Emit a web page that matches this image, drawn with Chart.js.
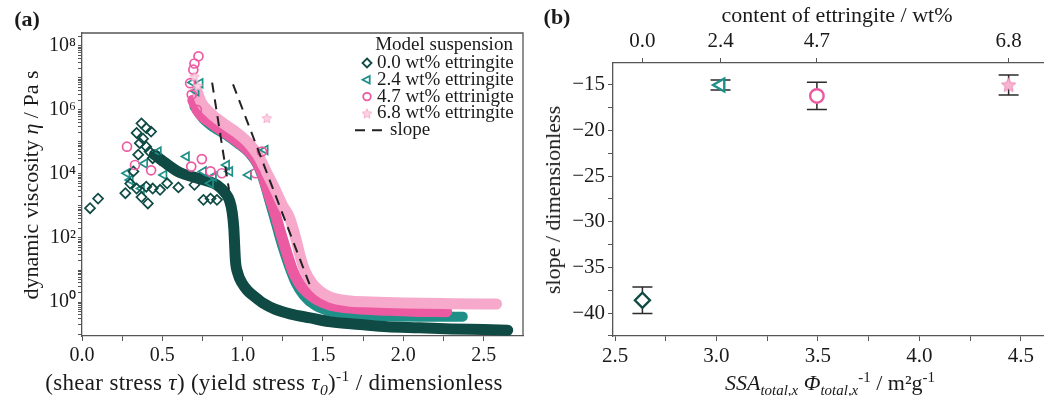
<!DOCTYPE html>
<html lang="en">
<head>
<meta charset="utf-8">
<title>Viscosity and slope of model suspensions</title>
<script src="https://cdn.jsdelivr.net/npm/chart.js"></script>
<style>
  html, body { margin: 0; padding: 0; background: #fff; }
  #fig { position: relative; width: 1053px; height: 396px; overflow: hidden;
         font-family: "Liberation Serif", "Times New Roman", serif; color: #1a1a1a; }
  #fig canvas { position: absolute; top: 0; }
  #panelA { left: 0; }
  #panelB { left: 540px; }
  .lbl { position: absolute; white-space: nowrap; line-height: 1; font-size: 22px;
         transform: translate(-50%, -50%); }
  .rot { transform: translate(-50%, -50%) rotate(-90deg); }
  .wide { font-size: 23px; letter-spacing: 0.3px; }
  .tag { font-weight: bold; font-size: 22px; }
  .lbl sub { font-size: 0.68em; vertical-align: -0.35em; line-height: 0; }
  .lbl sup { font-size: 0.68em; vertical-align: 0.55em; line-height: 0; }
</style>
</head>
<body>
<div id="fig">
  <canvas id="panelA" width="540" height="396"></canvas>
  <canvas id="panelB" width="513" height="396"></canvas>
  <div class="lbl tag" style="left:27px;top:19px">(a)</div>
  <div class="lbl tag" style="left:557px;top:17px">(b)</div>
  <div class="lbl rot" style="left:31px;top:185px">dynamic viscosity <i>η</i> / Pa s</div>
  <div class="lbl wide" style="left:274px;top:382px">(shear stress <i>τ</i>) (yield stress <i>τ<sub>0</sub></i>)<sup>-1</sup> / dimensionless</div>
  <div class="lbl" style="left:837px;top:15px">content of ettringite / wt%</div>
  <div class="lbl rot" style="left:553px;top:200px">slope / dimensionless</div>
  <div class="lbl" style="left:830px;top:383px"><i>SSA<sub>total,x</sub> Φ<sub>total,x</sub></i><sup>-1</sup> / m²g<sup>-1</sup></div>
</div>
<script>
// ---------- Panel (a): dynamic viscosity (Pa s) against tau / tau0 ----------
const seriesNames = ['0.0 wt% ettringite', '2.4 wt% ettringite', '4.7 wt% ettrinigte', '6.8 wt% ettringite'];
const seriesColors = ['#0f4a44', '#1f8f88', '#ec5aa2', '#f6a9cb'];

// isolated readings below and around the yield point (drawn as markers)
const xDots00 = [0.05, 0.10, 0.27, 0.34, 0.40, 0.41, 0.37, 0.44, 0.486, 0.53, 0.60, 0.70, 0.756, 0.80, 0.84, 0.32,
                 0.37, 0.40, 0.34, 0.43, 0.36, 0.40, 0.42, 0.44, 0.486, 0.53, 0.38, 0.35, 0.30];
const etaDots00 = [8.5e2, 1.7e3, 2.5e3, 3.5e3, 4.0e3, 1.2e3, 1.9e3, 3.5e3, 3.2e3, 5.1e3, 3.8e3, 4.6e3, 1.55e3, 1.7e3, 1.55e3, 1.2e4,
                   3.8e5, 2.7e5, 1.9e5, 2.1e5, 9.1e4, 7.1e4, 5.0e4, 3.1e4, 2.75e4, 1.9e4, 1.26e5, 4.0e4, 5.0e3];

const xDots24 = [0.28, 0.30, 0.37, 0.39, 0.475, 0.51, 0.65, 0.756, 0.80, 0.818, 0.90, 0.92, 1.036, 1.14, 0.69, 0.71, 0.735];
const etaDots24 = [1.05e4, 6.5e3, 3.5e3, 2.1e4, 5.0e4, 9.3e3, 3.5e4, 1.2e4, 5.1e3, 8.3e3, 1.9e4, 1.2e4, 9.3e3, 5.6e4, 7.2e6, 3.8e6, 6.8e6];

const xDots47 = [0.28, 0.33, 0.43, 0.68, 0.746, 0.80, 0.87, 1.08, 1.12, 0.725, 0.70, 0.693, 0.673, 0.683, 0.715];
const etaDots47 = [7.1e4, 1.9e4, 1.3e4, 1.7e4, 2.9e4, 1.2e4, 1.05e4, 1.05e4, 5.0e4, 4.7e7, 2.8e7, 1.8e7, 6.8e6, 3.0e6, 1.0e6];

const xDots68 = [1.15, 0.70, 0.72];
const etaDots68 = [5.5e5, 1.1e7, 5.6e6];

// dense flow curves: centre line of each band of overlapping readings
const xBand00 = [0.45, 0.53, 0.61, 0.70, 0.78, 0.84, 0.89, 0.92, 0.935, 0.945, 0.95, 0.955, 0.97, 0.995, 1.03, 1.08,
                 1.13, 1.20, 1.30, 1.42, 1.55, 1.73, 1.90, 2.10, 2.30, 2.50, 2.65];
const etaBand00 = [4.0e4, 2.0e4, 1.1e4, 7.9e3, 6.0e3, 4.5e3, 2.6e3, 1.4e3, 6.3e2, 2.0e2, 63, 20, 7.9, 4.0, 2.3, 1.4,
                   0.91, 0.60, 0.42, 0.32, 0.24, 0.20, 0.17, 0.158, 0.145, 0.138, 0.132];

const xBand24 = [0.70, 0.75, 0.82, 0.90, 0.97, 1.04, 1.09, 1.13, 1.17, 1.21, 1.25, 1.29, 1.33, 1.38, 1.45, 1.55, 1.70, 1.90, 2.10, 2.37];
const etaBand24 = [1.26e6, 5.6e5, 2.8e5, 1.6e5, 8.9e4, 4.5e4, 2.0e4, 6.3e3, 1.26e3, 2.5e2, 50, 12.6, 4.0, 1.6, 0.79, 0.50, 0.40, 0.36, 0.35, 0.35];

const xBand47 = [0.69, 0.73, 0.80, 0.88, 0.96, 1.03, 1.08, 1.12, 1.16, 1.20, 1.24, 1.28, 1.31, 1.35, 1.40, 1.46, 1.55, 1.70, 1.90, 2.10, 2.27];
const etaBand47 = [2.0e6, 7.9e5, 4.0e5, 2.1e5, 1.1e5, 5.6e4, 2.8e4, 1.1e4, 2.5e3, 6.3e2, 1.26e2, 28, 10, 4.0, 2.0, 1.2, 0.79, 0.63, 0.55, 0.51, 0.50];

const xBand68 = [0.715, 0.74, 0.80, 0.88, 0.96, 1.04, 1.10, 1.15, 1.20, 1.25, 1.29, 1.33, 1.36, 1.39, 1.43, 1.48, 1.55, 1.65, 1.80, 2.00, 2.30, 2.58];
const etaBand68 = [4.0e6, 1.8e6, 7.9e5, 3.8e5, 2.0e5, 8.9e4, 3.5e4, 1.1e4, 3.5e3, 1.0e3, 4.5e2, 1.0e2, 25, 8.9, 4.0, 2.2, 1.4, 1.1, 1.0, 0.93, 0.89, 0.87];

// slope guides
const xSlope1 = [0.81, 0.915];
const etaSlope1 = [7.1e6, 3.2e3];
const xSlope2 = [0.94, 1.42];
const etaSlope2 = [6.3e6, 3.2];

// ---------- Panel (b): fitted slope against SSA / solid fraction ----------
const ssa = [2.635, 3.02, 3.495, 4.44];
const ettringite = ['0.0', '2.4', '4.7', '6.8'];
const slope = [-38.6, -15.0, -16.2, -15.0];
const slopeErr = [1.45, 0.55, 1.5, 1.1];

// ---------- helpers ----------
const FONT = '"Liberation Serif", "Times New Roman", serif';
const AXIS = '#555';
const pts = (xs, ys) => xs.map((x, i) => ({ x, y: ys[i] }));
const SUP = { '0': '⁰', '1': '¹', '2': '²', '3': '³', '4': '⁴', '5': '⁵', '6': '⁶', '7': '⁷', '8': '⁸', '9': '⁹', '-': '⁻' };
const sup = n => String(n).split('').map(c => SUP[c]).join('');

function starImage(size, fill, stroke) {
  const c = document.createElement('canvas');
  c.width = c.height = size;
  const g = c.getContext('2d');
  const cx = size / 2, cy = size / 2 + 0.5, R = size / 2 - 1, r = R * 0.48;
  g.beginPath();
  for (let i = 0; i < 10; i++) {
    const a = -Math.PI / 2 + i * Math.PI / 5;
    const rr = i % 2 ? r : R;
    g.lineTo(cx + rr * Math.cos(a), cy + rr * Math.sin(a));
  }
  g.closePath();
  g.fillStyle = fill; g.fill();
  g.strokeStyle = stroke; g.lineWidth = 1; g.stroke();
  return c;
}
const starSmall = starImage(12, '#fbd3e4', seriesColors[3]);
const starBig = starImage(17, '#f7b3d0', '#e98cb8');

function markerStyle(i, r, lw) {
  const base = { pointBorderColor: seriesColors[i], pointBackgroundColor: 'rgba(255,255,255,0)', pointBorderWidth: lw, pointRadius: r };
  if (i === 0) return Object.assign(base, { pointStyle: 'rectRot' });
  if (i === 1) return Object.assign(base, { pointStyle: 'triangle', pointRotation: -90 });
  if (i === 2) return Object.assign(base, { pointStyle: 'circle', pointRadius: r * 0.9 });
  return Object.assign(base, { pointStyle: r > 6 ? starBig : starSmall });
}

function drawMark(ctx, i, x, y, r) {
  ctx.save();
  ctx.strokeStyle = seriesColors[i];
  ctx.lineWidth = 1.8;
  ctx.beginPath();
  if (i === 0) {
    ctx.moveTo(x, y - r); ctx.lineTo(x + r, y); ctx.lineTo(x, y + r); ctx.lineTo(x - r, y); ctx.closePath(); ctx.stroke();
  } else if (i === 1) {
    ctx.moveTo(x - r, y); ctx.lineTo(x + r * 0.6, y - r * 0.85); ctx.lineTo(x + r * 0.6, y + r * 0.85); ctx.closePath(); ctx.stroke();
  } else if (i === 2) {
    ctx.arc(x, y, r * 0.85, 0, Math.PI * 2); ctx.stroke();
  } else {
    ctx.drawImage(starSmall, x - 6, y - 6);
  }
  ctx.restore();
}

const band = (i, xs, ys, w, order) => ({
  data: pts(xs, ys), showLine: true, pointRadius: 0, borderColor: seriesColors[i], backgroundColor: seriesColors[i],
  borderWidth: w, borderCapStyle: 'round', borderJoinStyle: 'round', cubicInterpolationMode: 'monotone', order
});
const dots = (i, xs, ys, order) => Object.assign({ data: pts(xs, ys), showLine: false, order }, markerStyle(i, 5, 1.7));
const guide = (xs, ys) => ({
  data: pts(xs, ys), showLine: true, pointRadius: 0, borderColor: '#222', borderWidth: 2, borderDash: [10, 7], order: 0
});

// frame (top and right edges) plus the inline legend of panel (a)
const frameA = {
  id: 'frameA',
  afterDraw(chart) {
    const { ctx, chartArea: a } = chart;
    ctx.save();
    ctx.strokeStyle = AXIS; ctx.lineWidth = 1.3;
    ctx.beginPath();
    ctx.moveTo(a.left, a.top); ctx.lineTo(a.right, a.top); ctx.lineTo(a.right, a.bottom);
    ctx.stroke();
    // legend
    ctx.fillStyle = '#1a1a1a';
    ctx.font = '19px ' + FONT;
    ctx.textBaseline = 'middle';
    ctx.textAlign = 'center';
    ctx.fillText('Model suspension', a.right - 79, a.top + 12);
    ctx.textAlign = 'left';
    const x0 = a.right - 156, step = 16.8;
    seriesNames.forEach((name, i) => {
      const y = a.top + 30 + i * step;
      drawMark(ctx, i, x0, y, 4.5);
      ctx.fillText(name, x0 + 10, y);
    });
    const ys = a.top + 30 + 4 * step;
    ctx.strokeStyle = '#222'; ctx.lineWidth = 2; ctx.setLineDash([10, 7]);
    ctx.beginPath(); ctx.moveTo(a.right - 168, ys); ctx.lineTo(a.right - 141, ys); ctx.stroke();
    ctx.setLineDash([]);
    ctx.fillText('slope', a.right - 133, ys);
    ctx.restore();
  }
};

const tickFont = { family: FONT, size: 20 };

new Chart(document.getElementById('panelA'), {
  type: 'scatter',
  data: {
    datasets: [
      band(1, xBand24, etaBand24, 10, 10),
      band(2, xBand47, etaBand47, 11, 9),
      band(3, xBand68, etaBand68, 11, 8),
      band(0, xBand00, etaBand00, 11, 7),
      dots(1, xDots24, etaDots24, 6),
      dots(0, xDots00, etaDots00, 5),
      dots(2, xDots47, etaDots47, 4),
      dots(3, xDots68, etaDots68, 3),
      guide(xSlope1, etaSlope1),
      guide(xSlope2, etaSlope2)
    ]
  },
  options: {
    responsive: false, animation: false, devicePixelRatio: 1, events: [],
    layout: { padding: { top: 33, right: 17, left: 0, bottom: 0 } },
    plugins: { legend: { display: false }, tooltip: { enabled: false } },
    scales: {
      x: {
        type: 'linear', min: 0, max: 2.745,
        border: { color: AXIS, width: 1.3 },
        grid: { drawOnChartArea: false, tickLength: 5, color: AXIS },
        afterBuildTicks(s) { const t = []; for (let v = 0; v <= 2.5001; v += 0.25) t.push({ value: +v.toFixed(2) }); s.ticks = t; },
        afterFit(s) { s.height = 60; },
        ticks: {
          autoSkip: false, maxRotation: 0, padding: 3, color: '#1a1a1a', font: tickFont,
          callback: v => (Math.abs(v * 2 - Math.round(v * 2)) < 1e-6 ? v.toFixed(1) : '')
        }
      },
      y: {
        type: 'logarithmic', min: Math.pow(10, -1.06), max: Math.pow(10, 8.4),
        border: { color: AXIS, width: 1.3 },
        grid: { drawOnChartArea: false, tickLength: 4, color: AXIS },
        afterBuildTicks(s) {
          const t = [];
          for (let e = -1; e <= 8; e++) for (let m = 1; m <= 9; m++) {
            const v = m * Math.pow(10, e);
            if (v >= s.min * 0.999 && v <= s.max) t.push({ value: v });
          }
          s.ticks = t;
        },
        afterFit(s) { s.width = 82; },
        ticks: {
          autoSkip: false, padding: 2, color: '#1a1a1a', font: tickFont,
          callback: v => {
            const e = Math.round(Math.log10(v));
            return (Math.abs(v / Math.pow(10, e) - 1) < 1e-6 && e >= 0 && e % 2 === 0) ? '10' + sup(e) : '';
          }
        }
      }
    }
  },
  plugins: [frameA]
});

// vertical error bars for panel (b), drawn under the markers
const errorBars = {
  id: 'errorBars',
  beforeDatasetsDraw(chart) {
    const { ctx, scales: { x, y } } = chart;
    ctx.save();
    ctx.strokeStyle = '#2b2b2b'; ctx.lineWidth = 1.5;
    ssa.forEach((s, i) => {
      const px = x.getPixelForValue(s);
      const top = y.getPixelForValue(slope[i] + slopeErr[i]);
      const bot = y.getPixelForValue(slope[i] - slopeErr[i]);
      ctx.beginPath();
      ctx.moveTo(px, top); ctx.lineTo(px, bot);
      ctx.moveTo(px - 10, top); ctx.lineTo(px + 10, top);
      ctx.moveTo(px - 10, bot); ctx.lineTo(px + 10, bot);
      ctx.stroke();
    });
    ctx.restore();
  }
};

const tickFontB = { family: FONT, size: 21 };

new Chart(document.getElementById('panelB'), {
  type: 'scatter',
  data: {
    datasets: ssa.map((s, i) => Object.assign(
      { data: [{ x: s, y: slope[i] }], showLine: false, xAxisID: 'x', yAxisID: 'y' },
      markerStyle(i, 7.5, 2.4),
      { pointBackgroundColor: i === 3 ? undefined : '#fff' }
    ))
  },
  options: {
    responsive: false, animation: false, devicePixelRatio: 1, events: [],
    layout: { padding: 0 },
    plugins: { legend: { display: false }, tooltip: { enabled: false } },
    scales: {
      x: {
        type: 'linear', position: 'bottom', min: 2.49, max: 4.61,
        border: { color: AXIS, width: 1.3 },
        grid: { drawOnChartArea: false, tickLength: 5, color: AXIS },
        afterBuildTicks(s) { const t = []; for (let v = 2.5; v <= 4.5001; v += 0.25) t.push({ value: +v.toFixed(2) }); s.ticks = t; },
        afterFit(s) { s.height = 60; },
        ticks: {
          autoSkip: false, maxRotation: 0, padding: 3, color: '#1a1a1a', font: tickFontB,
          callback: v => (Math.abs(v * 2 - Math.round(v * 2)) < 1e-6 ? v.toFixed(1) : '')
        }
      },
      xTop: {
        type: 'linear', position: 'top', min: 2.49, max: 4.61,
        border: { color: AXIS, width: 1.3 },
        grid: { drawOnChartArea: false, tickLength: 5, color: AXIS },
        afterBuildTicks(s) { s.ticks = ssa.map(v => ({ value: v })); },
        afterFit(s) { s.height = 63; },
        ticks: {
          autoSkip: false, maxRotation: 0, padding: 4, color: '#1a1a1a', font: tickFontB,
          callback: (v, idx) => ettringite[idx]
        }
      },
      y: {
        type: 'linear', min: -42.52, max: -12.59,
        border: { color: AXIS, width: 1.3 },
        grid: { drawOnChartArea: false, tickLength: 5, color: AXIS },
        afterBuildTicks(s) { const t = []; for (let v = -42.5; v <= -12.6; v += 2.5) if (v >= s.min) t.push({ value: v }); s.ticks = t; },
        afterFit(s) { s.width = 73; },
        ticks: {
          autoSkip: false, padding: 3, color: '#1a1a1a', font: tickFontB,
          callback: v => (Math.abs(v / 5 - Math.round(v / 5)) < 1e-6 ? '−' + Math.abs(v) : '')
        }
      }
    }
  },
  plugins: [errorBars]
});
</script>
</body>
</html>
